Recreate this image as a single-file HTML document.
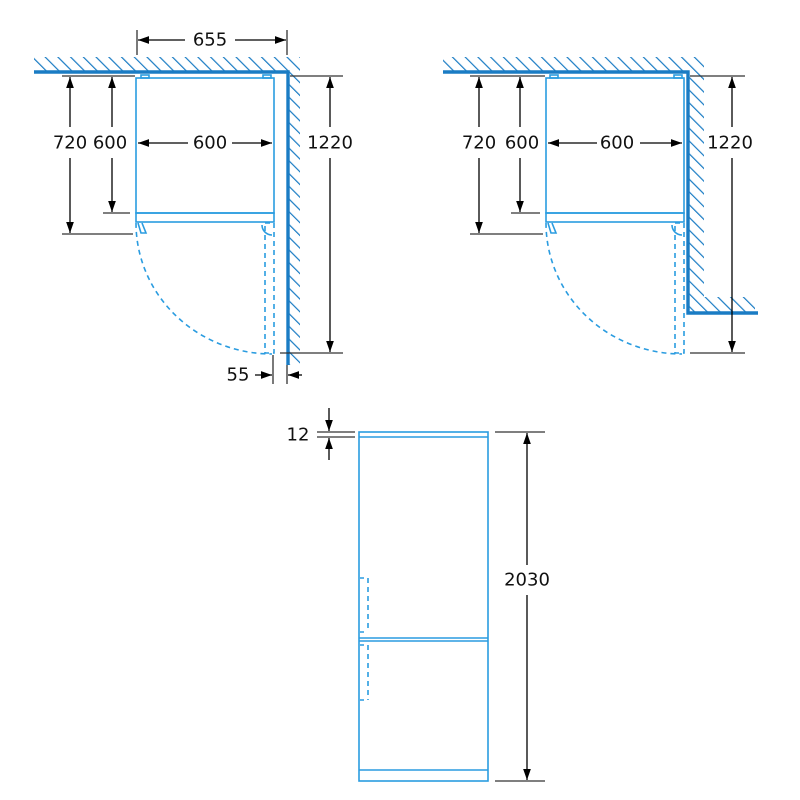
<!DOCTYPE html>
<html><head><style>html,body{margin:0;background:#fff}svg{display:block}</style></head><body>
<svg width="800" height="800" viewBox="0 0 800 800" xmlns="http://www.w3.org/2000/svg" font-family="'DejaVu Sans','Liberation Sans',sans-serif" font-size="18">
<defs>
<pattern id="h" width="9" height="9" patternUnits="userSpaceOnUse" patternTransform="rotate(-45)">
<rect width="9" height="9" fill="#fff"/><line x1="0" y1="0" x2="0" y2="9" stroke="#1a7cc4" stroke-width="2.4"/>
</pattern>
<marker id="a" viewBox="0 0 10 10" refX="10" refY="5" markerWidth="11" markerHeight="11" orient="auto-start-reverse" markerUnits="userSpaceOnUse"><path d="M0,1.5 L10,5 L0,8.5z" fill="#000"/></marker>
</defs>
<!-- LEFT -->
<rect x="34" y="57" width="266" height="15" fill="url(#h)"/>
<rect x="287" y="72" width="13" height="293" fill="url(#h)"/>
<path d="M34 72H288V365" fill="none" stroke="#1a7cc4" stroke-width="3.4"/>
<g fill="none" stroke="#2a9ce0" stroke-width="1.6">
<rect x="136" y="78" width="138" height="135"/>
<rect x="136" y="213" width="138" height="9"/>
<rect x="141" y="75" width="8" height="3"/><rect x="263" y="75" width="8" height="3"/>
<g stroke-dasharray="5,4"><path d="M136 223 A136 131 0 0 0 272 354"/><rect x="265" y="223" width="9" height="130"/></g>
<path d="M138 223l3 10h5l-4-10"/><path d="M262 225a10 10 0 0 0 10 10"/>
</g>
<g stroke="#333" stroke-width="1.3" fill="none">
<path d="M137 30V55M287 30V55M62 76H135M62 234H133M103 213H130M290 76H343M280 353H343M273 355V384M287 365V384"/>
</g>
<g stroke="#000" stroke-width="1.3" marker-end="url(#a)">
<path d="M185 40H138"/><path d="M235 40H286"/>
<path d="M70 127V77"/><path d="M70 158V233"/>
<path d="M112 127V77"/><path d="M112 158V212"/>
<path d="M188 143H138"/><path d="M232 143H272"/>
<path d="M330 127V77"/><path d="M330 158V352"/>
<path d="M255 375H272"/><path d="M302 375H288"/>
</g>
<g fill="#111" text-anchor="middle" dominant-baseline="central">
<text x="210" y="40">655</text><text x="70" y="143">720</text><text x="110" y="143">600</text><text x="210" y="143">600</text><text x="330" y="143">1220</text><text x="238" y="375">55</text>
</g>
<!-- RIGHT -->
<rect x="443" y="57" width="261" height="15" fill="url(#h)"/>
<rect x="689" y="72" width="15" height="228" fill="url(#h)"/>
<rect x="689" y="297" width="66" height="16" fill="url(#h)"/>
<path d="M443 72H688V313H758" fill="none" stroke="#1a7cc4" stroke-width="3.4"/>
<g fill="none" stroke="#2a9ce0" stroke-width="1.6">
<rect x="546" y="78" width="138" height="135"/>
<rect x="546" y="213" width="138" height="9"/>
<rect x="550" y="75" width="8" height="3"/><rect x="674" y="75" width="8" height="3"/>
<g stroke-dasharray="5,4"><path d="M546 223 A136 131 0 0 0 682 354"/><rect x="675" y="223" width="9" height="130"/></g>
<path d="M548 223l3 10h5l-4-10"/><path d="M672 225a10 10 0 0 0 10 10"/>
</g>
<g stroke="#333" stroke-width="1.3" fill="none">
<path d="M470 76H545M470 234H543M511 213H540M690 76H745M690 353H745"/>
</g>
<g stroke="#000" stroke-width="1.3" marker-end="url(#a)">
<path d="M479 127V77"/><path d="M479 158V233"/>
<path d="M520 127V77"/><path d="M520 158V212"/>
<path d="M597 143H548"/><path d="M640 143H682"/>
<path d="M732 127V77"/><path d="M732 158V352"/>
</g>
<g fill="#111" text-anchor="middle" dominant-baseline="central">
<text x="479" y="143">720</text><text x="522" y="143">600</text><text x="617" y="143">600</text><text x="730" y="143">1220</text>
</g>
<!-- BOTTOM -->
<g fill="none" stroke="#2a9ce0" stroke-width="1.6">
<rect x="359" y="432" width="129" height="349"/>
<path d="M359 437H488M359 638H488M359 641H488M359 770H488"/>
<g stroke-dasharray="5,4"><path d="M368 578V632M368 645V700"/></g>
<path d="M360 578h4M360 632h4M360 645h4M360 700h4"/>
</g>
<g stroke="#333" stroke-width="1.3" fill="none">
<path d="M317 432H355M317 437H355M495 432H545M495 781H545"/>
</g>
<g stroke="#000" stroke-width="1.3" marker-end="url(#a)">
<path d="M329 408V431"/><path d="M329 460V438"/>
<path d="M527 565V433"/><path d="M527 595V780"/>
</g>
<g fill="#111" text-anchor="middle" dominant-baseline="central">
<text x="298" y="435">12</text><text x="527" y="580">2030</text>
</g>
</svg>
</body></html>
